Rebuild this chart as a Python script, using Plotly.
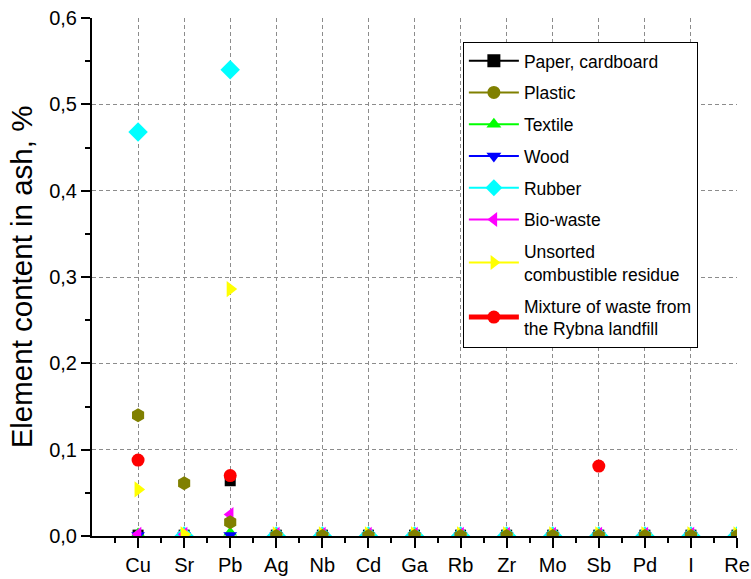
import plotly.graph_objects as go

elements = ["Cu", "Sr", "Pb", "Ag", "Nb", "Cd", "Ga", "Rb", "Zr", "Mo", "Sb", "Pd", "I", "Re"]
xpos = list(range(1, len(elements) + 1))

paper    = [0.001, 0.001, 0.064, 0.001, 0.001, 0.001, 0.001, 0.001, 0.001, 0.001, 0.001, 0.001, 0.001, 0.001]
plastic  = [0.140, 0.061, 0.016, 0.000, 0.000, 0.000, 0.000, 0.000, 0.000, 0.000, 0.000, 0.000, 0.000, 0.000]
textile  = [0.003, 0.002, 0.004, 0.002, 0.002, 0.002, 0.002, 0.002, 0.002, 0.002, 0.002, 0.002, 0.002, 0.002]
wood     = [0.001, 0.001, 0.001, 0.001, 0.001, 0.001, 0.001, 0.001, 0.001, 0.001, 0.001, 0.001, 0.001, 0.001]
rubber   = [0.468, 0.000, 0.540, 0.000, 0.000, 0.000, 0.000, 0.000, 0.000, 0.000, 0.000, 0.000, 0.000, 0.000]
biowaste = [0.002, 0.002, 0.025, 0.002, 0.002, 0.002, 0.002, 0.002, 0.002, 0.002, 0.002, 0.002, 0.002, 0.002]
unsorted = [0.054, 0.002, 0.286, 0.002, 0.002, 0.002, 0.002, 0.002, 0.002, 0.002, 0.002, 0.002, 0.002, 0.002]
mixture  = [0.088, None, 0.070, None, None, None, None, None, None, None, 0.081, None, None, None]

# name, values, colour, plot symbol, legend symbol, size, legend line width
series = [
    ("Paper, cardboard", paper, "black", "square", "square", 11, 2),
    ("Plastic", plastic, "#808000", "hexagon", "circle", 14, 2),
    ("Textile", textile, "#00ff00", "triangle-up", "triangle-up", 12, 2),
    ("Wood", wood, "#0000ff", "triangle-down", "triangle-down", 12, 2),
    ("Rubber", rubber, "#00ffff", "diamond", "diamond", 15, 2),
    ("Bio-waste", biowaste, "#ff00ff", "triangle-left", "triangle-left", 13, 2),
    ("Unsorted<br>combustible residue", unsorted, "#ffff00", "triangle-right", "triangle-right", 14, 2),
    ("Mixture of waste from<br>the Rybna landfill", mixture, "#ff0000", "circle", "circle", 13, 5),
]
draw_order = [0, 2, 3, 4, 5, 6, 1, 7]

fig = go.Figure()
for i in draw_order:
    name, vals, col, sym, lsym, size, lw = series[i]
    fig.add_trace(go.Scatter(
        x=xpos, y=vals, mode="markers", name=name, showlegend=False,
        marker=dict(color=col, symbol=sym, size=size, line=dict(width=0)),
        legendgroup="g%d" % i,
    ))
for i, (name, vals, col, sym, lsym, size, lw) in enumerate(series):
    fig.add_trace(go.Scatter(
        x=[None], y=[None], mode="lines+markers", name=name, showlegend=True,
        line=dict(color=col, width=lw),
        marker=dict(color=col, symbol=lsym, size=13, line=dict(width=0)),
        legendgroup="g%d" % i, legendrank=i + 1,
    ))

fig.update_layout(
    width=751, height=579,
    margin=dict(l=92, r=14, t=18, b=43),
    plot_bgcolor="white", paper_bgcolor="white",
    separators=", ",
    font=dict(family="Liberation Sans, Arial, sans-serif", size=20, color="black"),
    legend=dict(
        x=0.575, y=0.954, xanchor="left", yanchor="top",
        bordercolor="black", borderwidth=1, bgcolor="white",
        font=dict(size=17.5), tracegroupgap=6, traceorder="grouped",
        itemwidth=50,
    ),
    xaxis=dict(
        range=[0, 14], tickmode="array", tickvals=xpos, ticktext=elements,
        automargin=False, ticklabeloverflow="allow",
        showline=True, linecolor="black", linewidth=2,
        ticks="outside", ticklen=10, tickwidth=2, tickcolor="black",
        showgrid=True, gridcolor="#8c8c8c", griddash="4px,3px", gridwidth=1,
        zeroline=False,
        minor=dict(tickmode="linear", tick0=0.5, dtick=1, ticks="outside",
                   ticklen=5, tickwidth=2, tickcolor="black", showgrid=False),
    ),
    yaxis=dict(
        range=[0, 0.6], tickmode="linear", tick0=0, dtick=0.1, tickformat=".1f",
        automargin=False, ticklabeloverflow="allow",
        showline=True, linecolor="black", linewidth=2,
        ticks="outside", ticklen=9, tickwidth=2, tickcolor="black",
        showgrid=True, gridcolor="#8c8c8c", griddash="4px,3px", gridwidth=1,
        zeroline=False,
        title=dict(text="Element content in ash, %", font=dict(size=29.5), standoff=8),
        minor=dict(tickmode="linear", tick0=0.05, dtick=0.1, ticks="outside",
                   ticklen=5, tickwidth=2, tickcolor="black", showgrid=False),
    ),
)

fig.write_html(
    "out.html",
    config={"displayModeBar": False},
    post_script="document.body.style.margin='0';document.body.style.overflow='hidden';",
)
